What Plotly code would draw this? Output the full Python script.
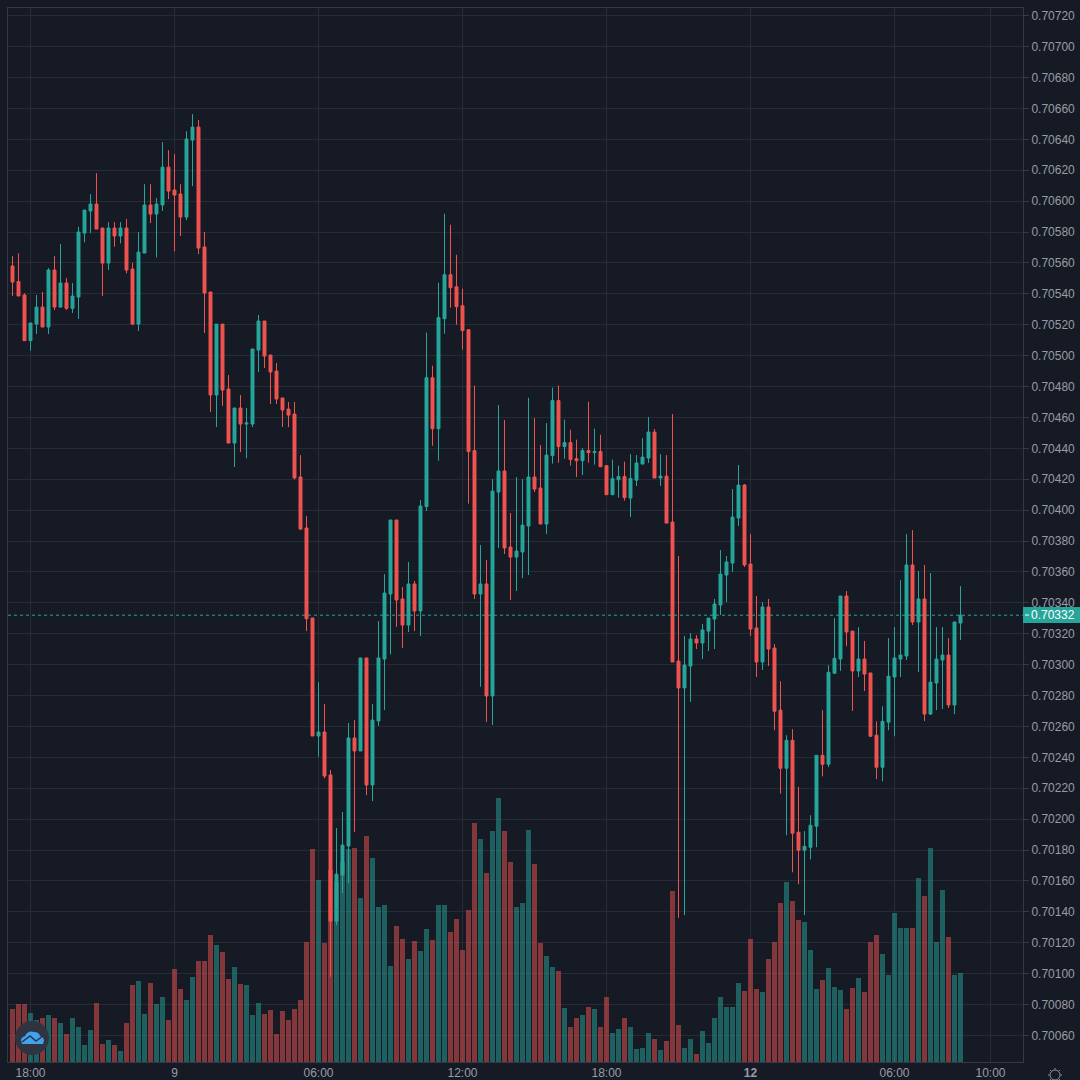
import plotly.graph_objects as go

BASE = 0.70000
SCALE = 1e5
UP = "#26a69a"
DOWN = "#ef5350"

opens = [558.0,548.0,539.2,509.7,520.4,531.4,518.5,555.4,531.4,547.0,530.6,537.9,579.3,593.6,598.1,582.6,559.9,582.6,577.4,582.6,
556.0,520.4,566.4,597.5,591.6,597.5,622.0,607.2,604.6,589.7,639.5,647.9,570.3,541.2,474.5,520.4,478.4,443.4,466.1,455.7,
455.7,503.6,522.4,500.4,490.0,472.6,465.4,462.2,421.4,388.4,330.2,253.8,256.4,228.6,134.0,163.8,182.6,252.5,244.1,304.3,
222.1,263.5,303.6,345.7,393.6,342.5,325.6,352.2,334.7,402.3,485.7,452.7,523.9,552.4,544.6,532.3,516.8,438.5,345.7,352.2,
279.7,411.7,425.3,376.1,369.6,372.9,389.7,421.4,414.3,391.0,435.3,470.9,441.1,443.7,433.3,432.0,438.5,437.2,437.9,428.8,
410.0,419.7,421.7,407.8,419.4,429.8,433.7,450.5,420.8,422.0,392.3,302.3,284.9,299.1,316.6,314.0,321.7,329.5,338.6,358.0,
365.7,394.9,416.2,365.1,323.7,301.7,337.3,310.7,270.5,232.9,251.0,191.5,179.9,181.8,195.4,241.3,235.5,294.4,303.6,344.4,
321.7,295.9,303.6,294.6,254.3,233.6,262.7,292.0,303.6,305.6,364.5,327.6,342.5,268.0,288.1,303.0,306.2,273.9,326.9]
highs = [564.4,566.2,540.3,521.1,539.2,541.2,556.7,564.4,572.2,550.2,547.0,583.4,594.2,604.6,618.1,582.6,586.4,586.4,586.4,588.4,
560.1,580.0,611.0,611.0,602.0,638.2,633.0,630.4,611.0,645.3,656.3,652.5,580.0,541.2,520.4,520.4,487.4,466.1,474.5,466.1,
504.3,526.3,522.4,500.4,495.2,472.6,470.0,470.0,435.6,396.1,330.2,288.7,274.5,231.8,194.2,204.6,262.2,264.1,304.3,304.3,
274.5,328.2,358.6,393.6,393.6,350.2,366.4,354.1,406.5,514.9,493.5,547.2,591.9,584.7,565.3,543.3,516.8,480.6,377.4,367.7,
420.1,468.0,458.3,398.1,421.4,420.1,472.8,459.6,442.1,456.3,479.3,480.6,458.6,452.1,445.6,440.2,470.2,452.7,448.8,428.8,
432.7,428.8,431.4,436.3,435.6,446.6,460.2,452.5,436.3,435.6,462.2,370.3,318.5,320.4,319.1,326.3,330.1,342.5,374.2,370.3,
413.6,429.2,416.9,384.5,344.4,340.5,342.5,313.3,289.2,254.3,258.2,220.9,192.2,202.5,241.3,270.5,299.6,330.1,344.4,347.6,
321.7,324.3,315.3,294.6,263.3,273.0,317.2,324.3,354.7,384.5,387.1,360.6,364.5,359.3,324.3,324.3,317.2,327.6,350.8]
lows = [538.6,538.6,509.7,503.2,514.0,518.5,514.0,529.5,531.4,529.5,527.6,523.7,573.3,579.3,581.9,538.6,555.4,570.5,572.6,553.2,
519.8,515.9,566.4,585.8,563.6,593.6,601.3,567.5,577.4,587.7,609.7,565.7,514.6,463.5,453.8,467.4,443.4,427.9,437.6,433.5,
453.8,489.4,492.0,468.7,468.7,453.8,453.8,419.9,387.7,321.7,253.8,240.4,226.4,98.0,131.4,152.1,158.6,191.6,244.1,215.6,
211.7,260.3,270.6,306.6,324.5,310.7,321.1,321.7,318.5,399.4,441.7,432.0,514.2,531.0,520.0,503.9,404.2,342.5,285.7,262.9,
260.9,375.5,371.6,341.8,347.6,356.0,358.0,411.7,391.0,384.5,430.1,430.7,433.3,428.8,421.4,422.7,430.7,429.4,428.1,410.0,
410.0,408.1,406.1,395.5,415.6,429.8,430.5,420.8,415.6,391.6,301.7,136.1,137.8,275.8,310.1,303.6,308.8,310.1,332.1,340.5,
359.9,389.7,363.2,318.5,292.0,296.5,299.1,257.5,216.5,189.6,165.6,157.9,137.8,174.0,181.8,227.7,233.6,294.4,295.9,312.0,
270.0,292.0,282.9,253.6,225.8,224.5,257.5,253.6,292.0,303.0,325.6,295.2,263.5,267.4,270.6,271.3,271.9,268.0,315.9]
closes = [547.6,538.6,509.7,521.1,531.4,518.5,555.4,531.4,547.0,530.6,538.6,580.0,594.2,598.1,581.9,559.9,582.6,577.4,582.6,555.4,
520.4,567.0,597.5,591.6,598.1,622.0,606.5,603.9,589.7,640.2,647.9,569.6,540.5,474.5,520.4,477.7,443.4,466.1,455.7,456.4,
504.3,522.4,499.7,489.4,471.9,464.8,461.5,420.8,387.7,329.7,253.8,256.4,227.9,134.0,164.4,183.2,252.5,244.1,304.3,222.1,
264.1,304.3,346.3,393.6,341.8,325.6,352.2,334.7,402.6,485.7,452.7,524.6,552.4,544.0,531.7,516.2,437.9,345.7,352.2,279.7,
412.3,425.3,375.5,369.6,373.5,390.3,421.4,413.6,391.0,435.6,470.9,441.1,443.7,432.7,432.0,438.5,437.2,437.9,428.1,410.0,
420.4,421.7,408.1,420.4,430.5,434.3,450.5,420.8,422.0,391.6,301.7,284.9,299.7,316.6,314.0,322.4,330.1,339.2,358.6,366.4,
395.5,416.2,364.5,323.0,301.7,337.3,310.1,269.8,232.9,251.0,190.9,179.9,182.4,196.0,241.3,235.5,295.0,304.1,344.4,321.1,
295.9,303.6,293.9,253.6,233.6,263.3,292.5,304.3,306.2,364.5,327.6,342.5,268.0,288.7,303.6,306.2,273.9,327.6,332.0]
volumes = [158,173,173,146,125,131,140,131,116,83,131,104,50,95,176,53,65,50,32,116,
230,242,143,236,173,194,125,278,218,185,254,302,302,380,350,329,248,284,233,230,
140,176,143,155,83,152,125,158,185,359,638,545,356,575,540,600,640,641,491,677,
611,464,470,287,407,368,308,362,332,398,365,470,470,389,428,335,455,716,668,566,
692,791,692,599,464,476,695,593,356,317,284,272,161,104,131,140,164,158,104,194,
86,98,131,104,38,41,86,68,35,64,514,112,43,70,25,94,58,133,196,166,
166,238,214,370,220,211,310,361,478,541,484,427,421,337,220,247,283,226,217,160,
223,253,211,361,382,325,262,448,403,403,403,553,499,643,361,517,376,262,268]

x_tick_positions = [3, 27, 51, 75, 99, 123, 147, 163]
x_tick_labels = ["18:00", "9", "06:00", "12:00", "18:00", "<b>12</b>", "06:00", "10:00"]
last_price = 0.70332

W, H = 1080, 1080
L, R, T, B = 8, 1023, 8, 1062
def px(x): return (x - L) / (R - L)
def py(y): return (B - y) / (B - T)

def rise(i):
    return closes[i] >= opens[i]

idx = list(range(len(opens)))
grid = "#262b36"
border = "#343945"
text = "#999ca6"

fig = go.Figure()
vol_colors = ["rgba(38,166,154,0.5)" if rise(i) else "rgba(239,83,80,0.5)" for i in idx]
fig.add_bar(x=idx, y=volumes, marker=dict(color=vol_colors, line_width=0), width=5/6, yaxis="y2", hoverinfo="skip", showlegend=False)
fig.add_candlestick(
    x=idx,
    open=[BASE + v / SCALE for v in opens],
    high=[BASE + v / SCALE for v in highs],
    low=[BASE + v / SCALE for v in lows],
    close=[BASE + v / SCALE for v in closes],
    increasing=dict(line=dict(color=UP, width=1), fillcolor=UP),
    decreasing=dict(line=dict(color=DOWN, width=1), fillcolor=DOWN),
    whiskerwidth=0,
    showlegend=False,
)

sun_cx, sun_cy = 1055, 1075
cloud = [(22, 1044), (19, 1038), (25, 1036), (28, 1030), (34, 1032), (39, 1032), (40, 1036), (46, 1038), (43, 1044)]
cloud_pts = [(px(a), py(b)) for a, b in cloud]
cloud_path = "M {} {} Q {} {} {} {} Q {} {} {} {} Q {} {} {} {} Q {} {} {} {} Z".format(
    *[v for p in cloud_pts for v in p])
shapes = [
    dict(type="line", xref="paper", yref="y", x0=0, x1=1, y0=last_price, y1=last_price,
         line=dict(color=UP, width=1, dash="dot")),
    dict(type="rect", xref="paper", yref="paper", x0=1, x1=px(1080), y0=py(623), y1=py(607),
         fillcolor=UP, line_width=0, layer="above"),
    dict(type="line", xref="paper", yref="paper", x0=px(1025), x1=px(1029), y0=py(615), y1=py(615),
         line=dict(color="#ffffff", width=1), layer="above"),
    dict(type="circle", xref="paper", yref="paper", x0=px(15), x1=px(49), y0=py(1055), y1=py(1021),
         fillcolor="#2f3440", line_width=0, layer="above"),
    dict(type="path", xref="paper", yref="paper", layer="above", fillcolor="#3fa3ef", line_width=0, path=cloud_path),
    dict(type="path", xref="paper", yref="paper", layer="above", line=dict(color="#2f3440", width=1.5),
         path="M {} {} L {} {} L {} {} L {} {}".format(
             px(22), py(1042), px(30), py(1036), px(36), py(1041), px(43), py(1036))),
    dict(type="circle", xref="paper", yref="paper", layer="above", x0=px(sun_cx-5), x1=px(sun_cx+5),
         y0=py(sun_cy+5), y1=py(sun_cy-5), line=dict(color="#8f929c", width=1)),
]
for dx, dy in [(0,-7),(0,7),(-7,0),(7,0),(-5,-5),(5,-5),(-5,5),(5,5)]:
    shapes.append(dict(type="line", xref="paper", yref="paper", layer="above",
        x0=px(sun_cx+dx*0.8), x1=px(sun_cx+dx), y0=py(sun_cy+dy*0.8), y1=py(sun_cy+dy),
        line=dict(color="#8f929c", width=1)))

annotations = [dict(xref="paper", yref="y", x=px(1076.5), y=last_price, text="%.5f" % last_price, showarrow=False,
                    xanchor="right", yanchor="middle", font=dict(color="#ffffff", size=12, family="Liberation Sans"))]

fig.update_layout(
    width=W, height=H,
    autosize=False,
    margin=dict(l=L, r=W - R, t=T, b=H - B, pad=0, autoexpand=False),
    paper_bgcolor="#161a25",
    plot_bgcolor="#161a25",
    font=dict(family="Liberation Sans", size=12, color=text),
    showlegend=False,
    boxgap=0.3,
    bargap=0,
    shapes=shapes,
    annotations=annotations,
    xaxis=dict(range=[-0.75, 168.417], tickmode="array", tickvals=x_tick_positions, ticktext=x_tick_labels,
               showgrid=True, gridcolor=grid, gridwidth=1, zeroline=False, showline=True, linecolor=border, mirror=True,
               ticks="", tickfont=dict(size=12, color=text),
               rangeslider=dict(visible=False), fixedrange=True),
    yaxis=dict(range=[0.700428, 0.70725], side="right", tick0=0.70060, dtick=0.0002, tickformat=".5f",
               showgrid=True, gridcolor=grid, gridwidth=1, zeroline=False, showline=True, linecolor=border, mirror=True,
               ticks="outside", ticklen=5, tickcolor=border, tickfont=dict(size=12, color=text), fixedrange=True),
    yaxis2=dict(overlaying="y", range=[0, 3 * (B - T)], visible=False, fixedrange=True),
)

fig.write_html("out.html", config=dict(displayModeBar=False), post_script="document.body.style.margin='0';document.body.style.overflow='hidden';")
